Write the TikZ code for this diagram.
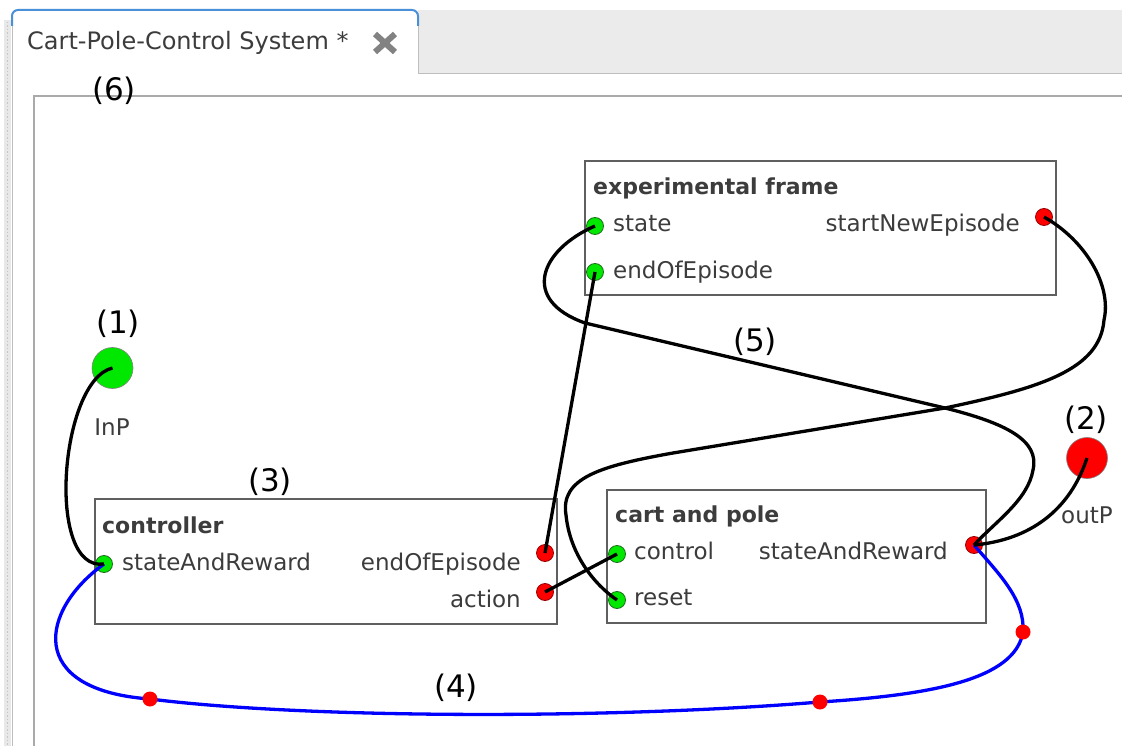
\documentclass[tikz,border=0pt]{standalone}
\usepackage{fontspec}
\setmainfont{DejaVu Sans}
\begin{document}
\begin{tikzpicture}[x=1pt,y=-1pt,
  boxframe/.style={draw=boxgray, line width=1.6pt, inner sep=0pt, anchor=north west},
  lbl/.style={inner sep=0pt, text=labelgray, font=\fontsize{23}{27}\selectfont},
  head/.style={inner sep=0pt, text=labelgray, font=\fontsize{22}{26}\selectfont\bfseries},
  num/.style={inner sep=0pt, text=black, font=\fontsize{31}{36}\selectfont},
  inport/.style={circle, fill=portgreen, draw=portgreendark, line width=0.8pt, minimum size=17pt, inner sep=0pt},
  outport/.style={circle, fill=portred, draw=portreddark, line width=0.8pt, minimum size=17pt, inner sep=0pt},
  bigin/.style={circle, fill=portgreen, draw=gray, line width=0.6pt, minimum size=41pt, inner sep=0pt},
  bigout/.style={circle, fill=portred, draw=gray, line width=0.6pt, minimum size=41pt, inner sep=0pt},
  bendpt/.style={circle, fill=portred, minimum size=15pt, inner sep=0pt},
  wire/.style={line width=3.3pt, black},
  bluewire/.style={line width=3.3pt, wireblue}
]
\definecolor{boxgray}{RGB}{95,95,95}
\definecolor{labelgray}{RGB}{60,60,60}
\definecolor{portgreen}{RGB}{0,232,0}
\definecolor{portgreendark}{RGB}{30,110,30}
\definecolor{portred}{RGB}{255,0,0}
\definecolor{portreddark}{RGB}{150,0,0}
\definecolor{wireblue}{RGB}{0,0,255}
\definecolor{tabgray}{RGB}{235,235,235}
\definecolor{linegray}{RGB}{190,190,190}
\definecolor{panelgray}{RGB}{170,170,170}
\definecolor{tabblue}{RGB}{74,144,217}
\definecolor{stripgray}{RGB}{232,232,232}
\definecolor{xgray}{RGB}{130,130,130}

\useasboundingbox (0,0) rectangle (1122,746);
\fill[white] (0,0) rectangle (1122,746);

% window chrome
\fill[stripgray] (4,20) rectangle (11,746);
\draw[gray!45, dotted, line width=1.5pt] (7.5,22) -- (7.5,746);
\fill[tabgray] (418,10) rectangle (1122,73);
\draw[linegray, line width=1.5pt] (418,73.5) -- (1122,73.5);
\draw[linegray, line width=1pt] (12,24) -- (12,746);
\draw[linegray, line width=1pt] (418,24) -- (418,73.5);
\draw[tabblue, line width=2pt, rounded corners=6pt] (12,26) -- (12,10) -- (418,10) -- (418,26);
\node[inner sep=0pt, anchor=base west, text=labelgray, font=\fontsize{24}{28}\selectfont] (tabtitle) at (27,50) {Cart-Pole-Control System *};
\draw[xgray, line width=6pt] (375,34) -- (395,52) (375,52) -- (395,34);
\draw[panelgray, line width=1.5pt] (34,746) -- (34,96) -- (1122,96);
\node[num] (n6) at (114,91) {(6)};

% blocks
\node[boxframe, minimum width=471pt, minimum height=134pt] (expf) at (584,160) {};
\node[boxframe, minimum width=462pt, minimum height=125pt] (ctrl) at (94,498) {};
\node[boxframe, minimum width=379pt, minimum height=133pt] (cp) at (606,489) {};

\node[head, anchor=base west] (expfT) at (593,195) {experimental frame};
\node[lbl, anchor=base west] (expStateL) at (613,232) {state};
\node[lbl, anchor=base east] (expSNEL) at (1020,232) {startNewEpisode};
\node[lbl, anchor=base west] (expEOEL) at (613,278) {endOfEpisode};

\node[head, anchor=base west] (ctrlT) at (102,533) {controller};
\node[lbl, anchor=base west] (ctrlSARL) at (122,570) {stateAndReward};
\node[lbl, anchor=base east] (ctrlEOEL) at (521,570) {endOfEpisode};
\node[lbl, anchor=base east] (ctrlActL) at (521,607) {action};

\node[head, anchor=base west] (cpT) at (615,522) {cart and pole};
\node[lbl, anchor=base west] (cpCtrlL) at (634,559) {control};
\node[lbl, anchor=base east] (cpSARL) at (948,559) {stateAndReward};
\node[lbl, anchor=base west] (cpResetL) at (634,605) {reset};

% ports
\node[inport] (expState) at (595,226) {};
\node[inport] (expEOE) at (595,272) {};
\node[outport] (expSNE) at (1044,217) {};
\node[inport] (ctrlSAR) at (104,564) {};
\node[outport] (ctrlEOE) at (545,553) {};
\node[outport] (ctrlAct) at (545,592) {};
\node[inport] (cpCtrl) at (617,554) {};
\node[inport] (cpReset) at (617,600) {};
\node[outport] (cpSAR) at (974,545) {};

% top-level ports
\node[bigin] (inP) at (112.5,368) {};
\node[lbl, anchor=base] (inPL) at (112,435) {InP};
\node[num] (n1) at (118,324) {(1)};
\node[bigout] (outP) at (1087,458) {};
\node[lbl, anchor=base] (outPL) at (1087,523) {outP};
\node[num] (n2) at (1086,420) {(2)};

\node[num] (n3) at (270,482) {(3)};
\node[num] (n4) at (456,688) {(4)};
\node[num] (n5) at (755,342) {(5)};

% blue connection with bend points
\coordinate (b1c) at (150,699);
\coordinate (b2c) at (820,702);
\coordinate (b3c) at (1023,632);
\draw[bluewire] (ctrlSAR.center) .. controls (40,610) and (25,690) .. (b1c)
  .. controls (300,718) and (600,720) .. (b2c)
  .. controls (930,695) and (1015,680) .. (b3c)
  .. controls (1025,600) and (1000,575) .. (cpSAR.center);
\node[bendpt] (b1) at (b1c) {};
\node[bendpt] (b2) at (b2c) {};
\node[bendpt] (b3) at (b3c) {};

% black connections
\draw[wire] (inP.center) .. controls (60,380) and (45,572) .. (ctrlSAR.center);
\draw[wire] (expEOE.center) -- (ctrlEOE.center);
\draw[wire] (ctrlAct.center) -- (cpCtrl.center);
\draw[wire] (expState.center) .. controls (540,250) and (520,300) .. (585,323)
  -- (945,408) .. controls (1005,423) and (1040,440) .. (1033,470)
  .. controls (1028,500) and (995,522) .. (cpSAR.center);
\draw[wire] (expSNE.center) .. controls (1085,240) and (1112,285) .. (1104,320)
  .. controls (1100,370) and (1040,388) .. (945,408)
  -- (673,453) .. controls (600,466) and (560,478) .. (566,515)
  .. controls (570,555) and (595,585) .. (cpReset.center);
\draw[wire] (cpSAR.center) .. controls (1030,540) and (1070,510) .. (outP.center);
\end{tikzpicture}
\end{document}
